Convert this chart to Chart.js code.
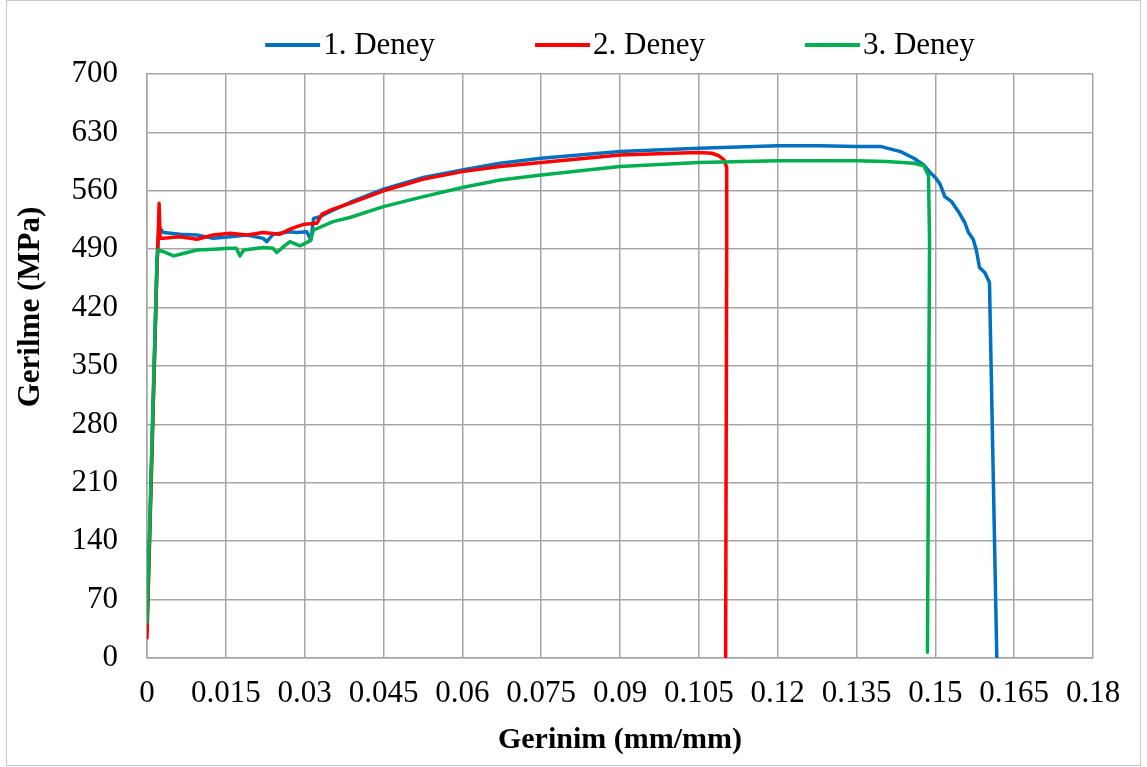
<!DOCTYPE html>
<html>
<head>
<meta charset="utf-8">
<title>Gerilme - Gerinim</title>
<script src="https://cdn.jsdelivr.net/npm/chart.js@4.4.1/dist/chart.umd.min.js"></script>
<style>
  html, body { margin: 0; padding: 0; background: #fff; }
  #wrap { width: 1147px; height: 767px; }
</style>
</head>
<body>
<div id="wrap"><canvas id="tensileChart" width="1147" height="767"></canvas></div>
<script>
// Test 1 (blue)
const strain1 = [0, 0.0019, 0.0022, 0.0025, 0.0031, 0.0063, 0.0095, 0.0126, 0.0158, 0.019, 0.0221, 0.0228, 0.024, 0.0272, 0.0285, 0.0304, 0.0312, 0.0317, 0.0329, 0.0348, 0.0386, 0.045, 0.0526, 0.06, 0.0672, 0.075, 0.09, 0.105, 0.12, 0.128, 0.135, 0.1397, 0.1434, 0.1459, 0.1478, 0.149, 0.15, 0.1509, 0.1518, 0.1531, 0.1544, 0.1556, 0.1563, 0.1572, 0.1578, 0.1584, 0.1594, 0.1603, 0.1617];
const stress1 = [35, 470, 512, 515, 510, 508, 507, 503, 505, 507, 503, 499, 508, 511, 510, 511, 501, 527, 529, 535, 546, 562, 576, 585, 593, 599, 607, 611, 614, 614, 613, 613, 607, 599, 591, 582, 576, 568, 553, 547, 535, 522, 510, 502, 489, 468, 462, 450, 0];

// Test 2 (red)
const strain2 = [0, 0.0019, 0.0022, 0.0023, 0.0025, 0.0031, 0.0063, 0.0095, 0.0126, 0.0158, 0.019, 0.0221, 0.0253, 0.0272, 0.0285, 0.03, 0.0323, 0.0333, 0.0354, 0.0386, 0.045, 0.0526, 0.06, 0.0672, 0.075, 0.09, 0.1, 0.105, 0.1075, 0.1088, 0.1098, 0.1103, 0.1103, 0.1101];
const stress2 = [24, 470, 520, 545, 503, 503, 505, 502, 507, 509, 507, 510, 508, 514, 517, 520, 521, 532, 538, 545, 560, 574, 583, 589, 594, 603, 605, 606, 605, 602, 597, 588, 493, 0];

// Test 3 (green)
const strain3 = [0, 0.0019, 0.0021, 0.0031, 0.0051, 0.0063, 0.0095, 0.0126, 0.0158, 0.017, 0.0177, 0.0184, 0.0221, 0.024, 0.0247, 0.026, 0.0272, 0.0291, 0.031, 0.0317, 0.0354, 0.0386, 0.045, 0.0526, 0.06, 0.0672, 0.075, 0.09, 0.105, 0.12, 0.135, 0.1407, 0.1459, 0.1478, 0.1487, 0.1489, 0.1485];
const stress3 = [43, 480, 489, 487, 482, 484, 489, 490, 491, 491, 482, 489, 492, 491, 486, 493, 499, 494, 500, 513, 523, 528, 541, 553, 564, 573, 579, 589, 594, 596, 596, 595, 593, 590, 578, 500, 7];

const seriesNames = ['1. Deney', '2. Deney', '3. Deney'];
const seriesColors = ['#0070C0', '#FF0000', '#00B050'];

const xTitle = 'Gerinim (mm/mm)';
const yTitle = 'Gerilme (MPa)';

const FONT = "'Liberation Serif', 'Times New Roman', serif";

function toPoints(xs, ys) {
  return xs.map((x, i) => ({ x: x, y: ys[i] }));
}

// legend, rotated y title and outer frame
const extras = {
  id: 'extras',
  afterDraw(chart) {
    const ctx = chart.ctx;
    const area = chart.chartArea;
    ctx.save();

    ctx.strokeStyle = '#c9c9c9';
    ctx.lineWidth = 1;
    ctx.strokeRect(6.5, 0.5, chart.width - 13, chart.height - 2);

    ctx.fillStyle = '#000';
    ctx.font = 'bold 31px ' + FONT;
    ctx.textAlign = 'center';
    ctx.textBaseline = 'middle';
    ctx.translate(31, 307);
    ctx.rotate(-Math.PI / 2);
    ctx.fillText(yTitle, 0, 0);
    ctx.setTransform(1, 0, 0, 1, 0, 0);

    // legend row
    ctx.font = '31px ' + FONT;
    ctx.textAlign = 'left';
    const lineLen = 55, gapText = 3, gapItem = 100, y = 45;
    const widths = seriesNames.map(n => lineLen + gapText + ctx.measureText(n).width);
    const total = widths.reduce((a, b) => a + b, 0) + gapItem * (widths.length - 1);
    let x = (area.left + area.right) / 2 - total / 2;
    seriesNames.forEach((name, i) => {
      ctx.strokeStyle = seriesColors[i];
      ctx.lineWidth = 4;
      ctx.beginPath();
      ctx.moveTo(x, y);
      ctx.lineTo(x + lineLen, y);
      ctx.stroke();
      ctx.fillText(name, x + lineLen + gapText, y + 1);
      x += widths[i] + gapItem;
    });
    ctx.restore();
  }
};

Chart.defaults.font.family = FONT;
Chart.defaults.color = '#000';

const ctx = document.getElementById('tensileChart').getContext('2d');
new Chart(ctx, {
  type: 'line',
  data: {
    datasets: [
      { label: seriesNames[0], data: toPoints(strain1, stress1), borderColor: seriesColors[0], order: 3 },
      { label: seriesNames[1], data: toPoints(strain2, stress2), borderColor: seriesColors[1], order: 2 },
      { label: seriesNames[2], data: toPoints(strain3, stress3), borderColor: seriesColors[2], order: 1 }
    ]
  },
  options: {
    responsive: false,
    animation: false,
    parsing: false,
    elements: {
      line: { borderWidth: 3.5, tension: 0, fill: false, borderJoinStyle: 'round', borderCapStyle: 'round' },
      point: { radius: 0 }
    },
    layout: { padding: { top: 74, right: 54, left: 0, bottom: 0 } },
    plugins: {
      legend: { display: false },
      tooltip: { enabled: false }
    },
    scales: {
      x: {
        type: 'linear',
        min: 0,
        max: 0.18,
        ticks: {
          stepSize: 0.015,
          autoSkip: false,
          maxRotation: 0,
          minRotation: 0,
          padding: 17,
          font: { size: 31 },
          callback: v => parseFloat(v.toFixed(3)).toString()
        },
        grid: { color: '#a6a6a6', lineWidth: 1.5, drawTicks: false },
        border: { color: '#a6a6a6', width: 1.5 },
        title: {
          display: true,
          text: xTitle,
          font: { size: 30, weight: 'bold' },
          padding: { top: 0, bottom: 9 }
        },
        afterFit: scale => { scale.height = 109; }
      },
      y: {
        min: 0,
        max: 700,
        ticks: { stepSize: 70, padding: 29, font: { size: 31 } },
        grid: { color: '#a6a6a6', lineWidth: 1.5, drawTicks: false },
        border: { color: '#a6a6a6', width: 1.5 },
        afterFit: scale => { scale.width = 147; }
      }
    }
  },
  plugins: [extras]
});
</script>
</body>
</html>
